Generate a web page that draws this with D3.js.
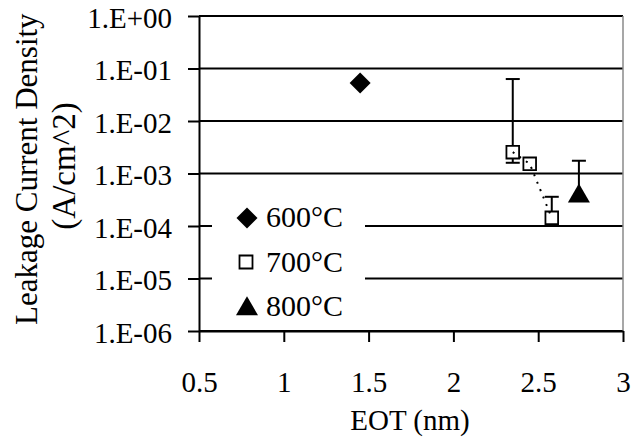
<!DOCTYPE html>
<html>
<head>
<meta charset="utf-8">
<script src="https://cdn.jsdelivr.net/npm/d3@7"></script>
<style>
  body { margin: 0; background: #fff; }
  text { font-family: "Liberation Serif", "Times New Roman", serif; fill: #000; }
</style>
</head>
<body>
<div id="chart"></div>
<script>
// Data
// ==============================
var xTicks = [0.5, 1, 1.5, 2, 2.5, 3];
var yTicks = [1e0, 1e-1, 1e-2, 1e-3, 1e-4, 1e-5, 1e-6];
var seriesNames = ["600°C", "700°C", "800°C"];

var eot600 = [1.45];
var j600 = [5.3e-2];

var eot700 = [2.35, 2.45, 2.58];
var j700 = [2.55e-3, 1.53e-3, 1.43e-4];
var errHigh700 = [6.3e-2, null, 3.6e-4];
var errLow700 = [1.6e-3, null, null];

var eot800 = [2.74];
var j800 = [3.7e-4];
var errHigh800 = [1.75e-3];
var errLow800 = [null];

// Chart area
// ==============================
var svgWidth = 631, svgHeight = 440;
var margin = { top: 16, right: 8, bottom: 109, left: 199 };
var width = 623 - margin.left;
var height = 331 - margin.top;

var svg = d3.select("#chart").append("svg")
  .attr("width", svgWidth)
  .attr("height", svgHeight);

var chartGroup = svg.append("g")
  .attr("transform", `translate(${margin.left}, ${margin.top})`);

var xScale = d3.scaleLinear().domain([0.5, 3]).range([0, width]);
var yScale = d3.scaleLog().domain([1e-6, 1]).range([height, 0]);

function sciFormat(v) {
  var e = Math.round(Math.log10(v));
  var s = Math.abs(e) < 10 ? "0" + Math.abs(e) : "" + Math.abs(e);
  return "1.E" + (e >= 0 ? "+" : "-") + s;
}

// Gridlines
chartGroup.selectAll(".grid")
  .data(yTicks)
  .enter().append("line")
  .attr("class", "grid")
  .attr("x1", 0).attr("x2", width)
  .attr("y1", d => yScale(d)).attr("y2", d => yScale(d))
  .attr("stroke", "#000")
  .attr("stroke-width", 2);

// right border of plot area
chartGroup.append("line")
  .attr("x1", width).attr("x2", width)
  .attr("y1", 0).attr("y2", height)
  .attr("stroke", "#8a8a8a")
  .attr("stroke-width", 1.5);

// Axes
var xAxis = d3.axisBottom(xScale).tickValues(xTicks).tickSize(11).tickSizeOuter(0)
  .tickFormat(d3.format("~g"));
var yAxis = d3.axisLeft(yScale).tickValues(yTicks).tickSize(11).tickSizeOuter(0)
  .tickFormat(sciFormat);

var gx = chartGroup.append("g")
  .attr("transform", `translate(0, ${height})`)
  .call(xAxis);
gx.selectAll("text").attr("y", 61).attr("dy", 0).style("font-size", "29px");

var gy = chartGroup.append("g").call(yAxis);
gy.selectAll("text").attr("x", -27).attr("dy", 11).style("font-size", "29px");

[gx, gy].forEach(function(g) {
  g.select(".domain").attr("stroke", "#000").attr("stroke-width", 2);
  g.selectAll(".tick line").attr("stroke", "#000").attr("stroke-width", 2);
  g.attr("font-family", null).attr("font-size", null);
});

// Legend background covers gridlines
chartGroup.append("rect")
  .attr("x", 212 - margin.left)
  .attr("y", 188 - margin.top)
  .attr("width", 153)
  .attr("height", 134)
  .attr("fill", "#fff");

// Series
// ==============================
var pts700 = eot700.map((x, i) => ({ x: x, y: j700[i], hi: errHigh700[i], lo: errLow700[i] }));
var pts800 = eot800.map((x, i) => ({ x: x, y: j800[i], hi: errHigh800[i], lo: errLow800[i] }));
var pts600 = eot600.map((x, i) => ({ x: x, y: j600[i] }));

var capW = 7;
function errorBars(pts) {
  pts.forEach(function(d) {
    [d.hi, d.lo].forEach(function(e) {
      if (e == null) return;
      chartGroup.append("line")
        .attr("x1", xScale(d.x)).attr("x2", xScale(d.x))
        .attr("y1", yScale(d.y)).attr("y2", yScale(e))
        .attr("stroke", "#000").attr("stroke-width", 2);
      chartGroup.append("line")
        .attr("x1", xScale(d.x) - capW).attr("x2", xScale(d.x) + capW)
        .attr("y1", yScale(e)).attr("y2", yScale(e))
        .attr("stroke", "#000").attr("stroke-width", 2);
    });
  });
}
errorBars(pts700);
errorBars(pts800);

var diamond = d3.symbol().type(d3.symbolSquare).size(220);
var square = d3.symbol().type(d3.symbolSquare).size(160);
var triangle = d3.symbol().type(d3.symbolTriangle).size(210);

chartGroup.selectAll(".p600")
  .data(pts600).enter().append("path")
  .attr("d", diamond)
  .attr("transform", d => `translate(${xScale(d.x)}, ${yScale(d.y)}) rotate(45)`)
  .attr("fill", "#000");

chartGroup.selectAll(".p700")
  .data(pts700).enter().append("path")
  .attr("d", square)
  .attr("transform", d => `translate(${xScale(d.x)}, ${yScale(d.y)})`)
  .attr("fill", "#fff").attr("stroke", "#000").attr("stroke-width", 1.8);

// dotted connector for 700°C
var line = d3.line().x(d => xScale(d.x)).y(d => yScale(d.y));
chartGroup.append("path")
  .datum(pts700)
  .attr("d", line)
  .attr("fill", "none")
  .attr("stroke", "#000")
  .attr("stroke-width", 2)
  .attr("stroke-dasharray", "2,6");

chartGroup.selectAll(".p800")
  .data(pts800).enter().append("path")
  .attr("d", triangle)
  .attr("transform", d => `translate(${xScale(d.x)}, ${yScale(d.y)})`)
  .attr("fill", "#000");

// Legend
// ==============================
var legendY = [218, 262, 309];
var legendText = [227, 272, 316];
var legend = svg.append("g");
legend.append("path").attr("d", diamond)
  .attr("transform", `translate(247, ${legendY[0]}) rotate(45)`).attr("fill", "#000");
legend.append("path").attr("d", d3.symbol().type(d3.symbolSquare).size(169))
  .attr("transform", `translate(246, ${legendY[1]})`)
  .attr("fill", "#fff").attr("stroke", "#000").attr("stroke-width", 1.8);
legend.append("path").attr("d", triangle)
  .attr("transform", `translate(247, ${legendY[2]})`).attr("fill", "#000");
legend.selectAll("text")
  .data(seriesNames).enter().append("text")
  .attr("x", 266)
  .attr("y", (d, i) => legendText[i])
  .style("font-size", "30px")
  .text(d => d);

// Axis titles
// ==============================
svg.append("text")
  .attr("x", 410).attr("y", 430)
  .attr("text-anchor", "middle")
  .style("font-size", "29px")
  .text("EOT (nm)");

svg.append("text")
  .attr("transform", "translate(37, 325) rotate(-90)")
  .attr("text-anchor", "start")
  .style("font-size", "31px")
  .text("Leakage Current Density");
svg.append("text")
  .attr("transform", "translate(75, 166) rotate(-90)")
  .attr("text-anchor", "middle")
  .style("font-size", "33px")
  .text("(A/cm^2)");
</script>
</body>
</html>
